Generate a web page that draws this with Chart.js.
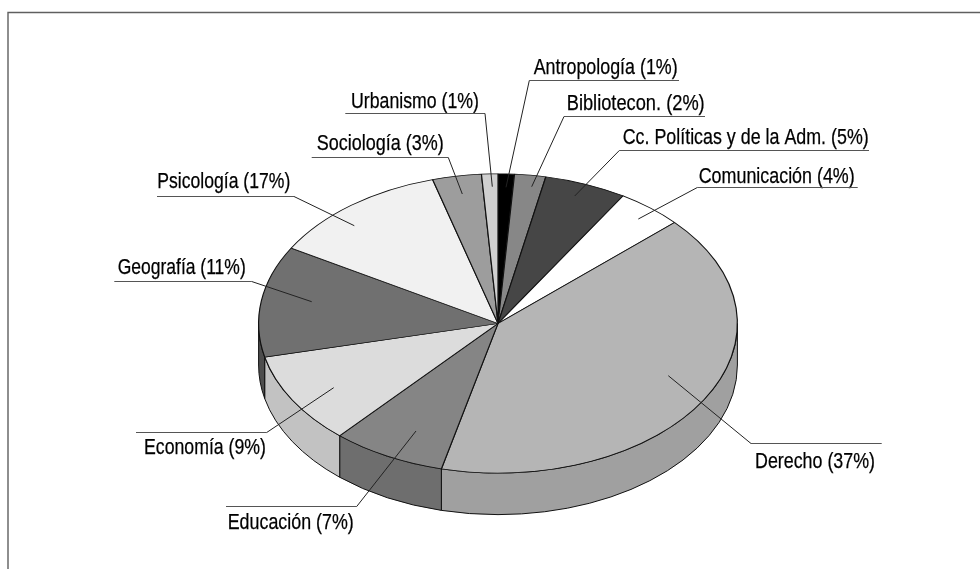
<!DOCTYPE html>
<html lang="es">
<head>
<meta charset="utf-8">
<title>Pie chart</title>
<script src="https://cdn.jsdelivr.net/npm/chart.js@4"></script>
<style>
html, body { margin: 0; background: #fff; }
canvas { display: block; }
</style>
</head>
<body>
<canvas id="pieChart" width="980" height="569"></canvas>
<script>
// Categories, printed percentages and the slice sizes as they are drawn in the picture
const categories = ['Antropología', 'Bibliotecon.', 'Cc. Políticas y de la Adm.', 'Comunicación', 'Derecho',
    'Educación', 'Economía', 'Geografía', 'Psicología', 'Sociología', 'Urbanismo'];
const printedPercent = [1, 2, 5, 4, 37, 7, 9, 11, 17, 3, 1];
const sliceValues = [1.1, 2.1, 5.55, 4.45, 40.6, 7.7, 9.9, 12, 12.2, 3.3, 1.1];

const topColors = ['#000000', '#878787', '#464646', '#ffffff', '#b5b5b5',
    '#858585', '#dcdcdc', '#707070', '#f1f1f1', '#9d9d9d', '#d0d0d0'];
const wallColors = ['#000000', '#6e6e6e', '#303030', '#c8c8c8', '#a0a0a0',
    '#6e6e6e', '#c2c2c2', '#4d4d4d', '#c8c8c8', '#7c7c7c', '#a8a8a8'];

// Label layout: text x, baseline y, text width, underline x0, x1, y, leader tip x, y
const labelLayout = [
    [533.7, 74, 144, 529.3, 679, 80.5, 506, 187.3],
    [566.7, 110, 138, 564, 705, 116.5, 531.7, 186.7],
    [622.7, 144, 246, 619.3, 869, 150.5, 574.7, 196],
    [698.7, 182.7, 156, 697.3, 857.7, 187.5, 638.3, 219],
    [755, 467.7, 120, 751, 881.7, 443.5, 668.3, 375.7],
    [227.7, 529.3, 126, 226, 356.7, 506.5, 416, 431],
    [144, 454.3, 122, 136, 266.7, 432.5, 333.7, 387.7],
    [117.7, 274, 128, 114.3, 251.7, 281.5, 311.7, 301.7],
    [157.3, 188.3, 133, 157, 294, 196.5, 354.3, 225.7],
    [316.7, 150, 127, 311.7, 448.3, 157.5, 462.3, 194],
    [351, 107.7, 128, 345.3, 485, 113.5, 492.3, 186.7]
];

const ellipseRatio = 150 / 240;
const wallDepth = 41.5;

// Squash the round pie into an ellipse and put the side wall under it
const tiltPlugin = {
    id: 'tilt',
    beforeDatasetsDraw(chart) {
        const ctx = chart.ctx;
        const arcs = chart.getDatasetMeta(0).data;
        const cx = arcs[0].x, cy = arcs[0].y, rx = arcs[0].outerRadius, ry = rx * ellipseRatio;

        ctx.save();
        ctx.lineWidth = 1;
        ctx.strokeStyle = '#111';
        arcs.forEach((arc, i) => {
            // only the front half of the wall shows
            const a0 = Math.max(arc.startAngle, 0);
            const a1 = Math.min(arc.endAngle, Math.PI);
            if (a1 <= a0) return;
            ctx.beginPath();
            ctx.ellipse(cx, cy + wallDepth, rx, ry, 0, a0, a1);
            ctx.ellipse(cx, cy, rx, ry, 0, a1, a0, true);
            ctx.closePath();
            ctx.fillStyle = wallColors[i];
            ctx.fill();
            ctx.stroke();
        });
        ctx.restore();

        ctx.save();
        ctx.translate(cx, cy);
        ctx.scale(1, ellipseRatio);
        ctx.translate(-cx, -cy);
    },
    afterDatasetsDraw(chart) {
        chart.ctx.restore();
    }
};

const labelPlugin = {
    id: 'leaderLabels',
    afterDraw(chart) {
        const ctx = chart.ctx;
        ctx.save();

        // frame, open on the right and at the bottom
        ctx.strokeStyle = '#5f5f5f';
        ctx.lineWidth = 1.4;
        ctx.beginPath();
        ctx.moveTo(8, 569);
        ctx.lineTo(8, 12.5);
        ctx.lineTo(980, 12.5);
        ctx.stroke();

        ctx.font = '21.5px "Liberation Sans Narrow", "Liberation Sans", Arial, sans-serif';
        ctx.fillStyle = '#000';
        ctx.textBaseline = 'alphabetic';
        categories.forEach((name, i) => {
            const [tx, ty, tw, x0, x1, uy, tipX, tipY] = labelLayout[i];
            const text = name + ' (' + printedPercent[i] + '%)';
            ctx.fillText(text, tx, ty, tw);
            // the printed face is a little heavier than the installed narrow one
            ctx.strokeStyle = '#000';
            ctx.lineWidth = 0.25;
            ctx.strokeText(text, tx, ty, tw);

            ctx.strokeStyle = '#555';
            ctx.lineWidth = 1.2;
            ctx.beginPath();
            ctx.moveTo(x0, uy);
            ctx.lineTo(x1, uy);
            ctx.stroke();

            // the leader leaves the underline at the end nearest the pie
            const kneeX = Math.abs(x0 - tipX) < Math.abs(x1 - tipX) ? x0 : x1;
            ctx.strokeStyle = '#222';
            ctx.lineWidth = 1;
            ctx.beginPath();
            ctx.moveTo(kneeX, uy);
            ctx.lineTo(tipX, tipY);
            ctx.stroke();
        });
        ctx.restore();
    }
};

const myChart = new Chart(document.getElementById('pieChart').getContext('2d'), {
    type: 'pie',
    data: {
        labels: categories,
        datasets: [{
            data: sliceValues,
            backgroundColor: topColors,
            borderColor: '#111',
            borderWidth: 1.2
        }]
    },
    options: {
        responsive: false,
        animation: false,
        layout: {
            padding: { top: 83.5, bottom: 5.5, left: 16, right: 0 }
        },
        plugins: {
            legend: { display: false },
            tooltip: { enabled: false }
        }
    },
    plugins: [tiltPlugin, labelPlugin]
});
</script>
</body>
</html>
